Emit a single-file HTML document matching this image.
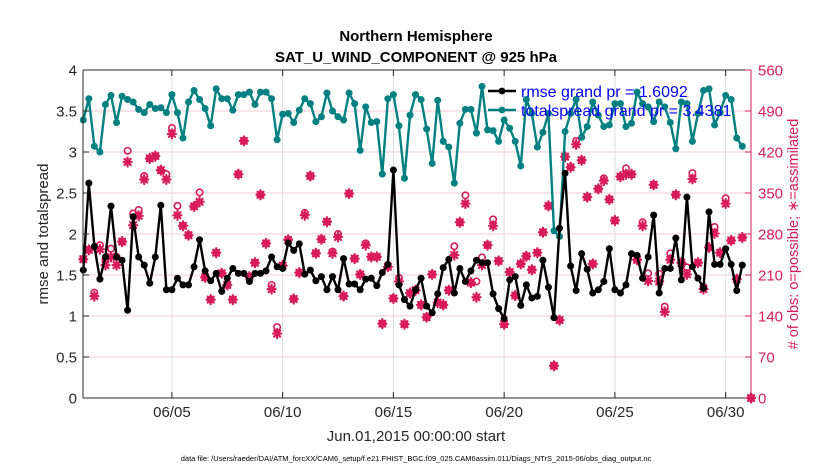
<!DOCTYPE html>
<html><head><meta charset="utf-8"><style>
html,body{margin:0;padding:0;background:#fff;}
svg{display:block;font-family:"Liberation Sans",sans-serif;}
</style></head><body>
<svg id="chart" width="830" height="470" viewBox="0 0 830 470"></svg>
<script>
const teal=[3.39,3.65,3.07,3.0,3.58,3.69,3.36,3.68,3.64,3.61,3.52,3.48,3.58,3.53,3.54,3.48,3.70,3.48,3.17,3.61,3.75,3.64,3.53,3.32,3.77,3.65,3.65,3.51,3.70,3.70,3.73,3.58,3.73,3.73,3.65,3.15,3.46,3.47,3.36,3.51,3.65,3.59,3.37,3.43,3.72,3.50,3.43,3.39,3.72,3.59,3.02,3.55,3.36,3.37,2.73,3.65,3.70,3.32,2.68,3.45,
3.70,3.64,3.28,2.86,3.63,3.13,3.06,2.62,3.35,3.52,3.52,3.23,3.80,3.27,3.26,3.13,3.39,3.29,3.13,2.83,3.64,3.47,3.06,3.24,3.47,2.04,1.97,3.25,3.47,3.64,3.18,3.31,3.61,3.45,3.31,3.33,3.59,3.59,3.31,3.35,3.73,3.59,3.55,3.37,3.61,3.55,3.36,3.04,3.61,3.59,3.13,3.47,3.75,3.77,3.33,3.48,3.69,3.64,3.17,3.07];
const rmse=[1.56,2.62,1.85,1.45,1.72,2.34,1.72,1.68,1.07,2.21,1.72,1.62,1.40,1.72,2.35,1.32,1.32,1.46,1.38,1.38,1.60,1.93,1.55,1.43,1.52,1.30,1.46,1.58,1.52,1.52,1.42,1.52,1.52,1.55,1.72,1.60,1.58,1.89,1.80,1.88,1.51,1.56,1.43,1.48,1.32,1.48,1.32,1.70,1.39,1.39,1.32,1.45,1.46,1.37,1.53,1.63,2.78,1.38,1.20,1.12,
1.32,1.46,1.12,1.04,1.27,1.59,1.69,1.28,1.58,1.42,1.55,1.68,1.65,1.65,1.27,1.09,0.97,1.44,1.48,1.13,1.38,1.22,1.24,1.68,1.35,0.98,2.07,2.74,1.61,1.31,1.76,1.57,1.28,1.32,1.42,1.82,1.32,1.28,1.38,1.76,1.74,1.46,1.72,2.23,1.28,1.58,1.58,1.95,1.44,2.45,1.60,1.46,1.34,2.27,1.63,1.63,1.82,1.63,1.31,1.62];
const assimilated=[237,253,174,254,227,241,227,267,403,295,311,373,409,413,389,373,451,312,294,278,327,335,206,168,248,213,193,168,382,439,207,231,347,264,186,110,226,270,169,214,312,379,247,271,301,247,275,174,349,238,211,261,241,241,127,224,170,199,126,179,
184,159,138,211,163,159,184,244,300,332,197,172,227,261,294,234,126,215,175,229,242,219,248,283,328,55,133,412,394,433,406,343,229,357,371,339,303,378,382,382,236,294,200,364,199,147,236,347,231,211,374,231,186,257,281,248,332,269,203,274];
const possibleExtra=[0,0,6,7,10,14,14,0,19,20,10,6,0,0,0,9,10,16,0,0,0,16,0,0,0,0,0,0,0,0,0,0,0,0,7,11,0,0,0,0,4,0,0,0,0,3,5,0,0,0,0,3,0,0,0,0,0,6,0,0,
0,0,0,0,0,0,0,15,0,14,0,27,13,0,11,0,0,0,0,0,0,0,0,0,0,0,0,0,0,6,0,0,0,0,4,0,0,0,10,0,0,6,13,0,13,9,11,0,0,12,10,0,4,0,11,0,9,0,0,0];
const finalTime=[30.15];
const finalObs=[0];
const leftTicks=["0","0.5","1","1.5","2","2.5","3","3.5","4"];
const rightTicks=["0","70","140","210","280","350","420","490","560"];
const xTickLabels=["06/05","06/10","06/15","06/20","06/25","06/30"];
const xTickDays=[4,9,14,19,24,29];
const stepDays=0.25;

const NS="http://www.w3.org/2000/svg";
const svg=document.getElementById('chart');
const X0=83.3,PXD=22.15,YB=398,YT=70;
function xS(d){return X0+d*PXD;}
function yL(v){return YB-(v/4)*(YB-YT);}
function yR(v){return YB-(v/560)*(YB-YT);}
const PINK="#d81b5a";
function el(tag,attrs,parent){const e=document.createElementNS(NS,tag);for(const k in attrs)e.setAttribute(k,attrs[k]);(parent||svg).appendChild(e);return e;}
function txt(s,attrs){const t=el('text',attrs);t.textContent=s;return t;}

const grid=el('g',{});


rightTicks.forEach((t,k)=>{const y=yR(+t);const l=el('line',{x1:83,x2:751,y1:y,y2:y,stroke:'#f3c9d6','stroke-width':1},grid);

});
xTickDays.forEach(d=>{const x=xS(d);const l=el('line',{x1:x,x2:x,y1:YT,y2:YB,stroke:'#dcdcdc','stroke-width':1},grid);

});

const obsG=el('g',{});


function star(x,y,parent){const g=el('g',{stroke:PINK,'stroke-width':2.2,'stroke-linecap':'round'},parent);
el('line',{x1:x-4,x2:x+4,y1:y,y2:y},g);el('line',{x1:x,x2:x,y1:y-4.5,y2:y+4.5},g);
el('line',{x1:x-3,x2:x+3,y1:y-3,y2:y+3},g);el('line',{x1:x-3,x2:x+3,y1:y+3,y2:y-3},g);return g;}
assimilated.forEach((v,i)=>{const x=xS(i*stepDays);
const c=el('circle',{cx:x,cy:yR(v+possibleExtra[i]),r:3.2,fill:'none',stroke:PINK,'stroke-width':1.6},obsG);


const s=star(x,yR(v),obsG);

});
finalObs.forEach((v,i)=>{const x=xS(finalTime[i]);
el('circle',{cx:x,cy:yR(v),r:3.2,fill:'none',stroke:PINK,'stroke-width':1.6},obsG);
const s=star(x,yR(v),obsG);

});

function series(arr,color,name){const g=el('g',{});


const pts=arr.map((v,i)=>xS(i*stepDays).toFixed(1)+','+yL(v).toFixed(1)).join(' ');
el('polyline',{points:pts,fill:'none',stroke:color,'stroke-width':2.4,'stroke-linejoin':'round'},g);
arr.forEach((v,i)=>{const c=el('circle',{cx:xS(i*stepDays),cy:yL(v),r:3.5,fill:color},g);

});}
series(teal,'#008080','totalspread-line');
series(rmse,'#000','rmse-line');

const ax=el('g',{});


el('line',{x1:83,x2:751,y1:YT,y2:YT,stroke:'#262626','stroke-width':1},ax);
el('line',{x1:83,x2:751,y1:YB,y2:YB,stroke:'#262626','stroke-width':1},ax);
el('line',{x1:83,x2:83,y1:YT,y2:YB,stroke:'#262626','stroke-width':1},ax);
el('line',{x1:751,x2:751,y1:YT,y2:YB,stroke:PINK,'stroke-width':1},ax);
leftTicks.forEach(t=>{const y=yL(+t);el('line',{x1:83,x2:89,y1:y,y2:y,stroke:'#262626'},ax);
const l=txt(t,{x:77,y:y+5.5,'text-anchor':'end','font-size':15,fill:'#262626'});

});
rightTicks.forEach(t=>{const y=yR(+t);el('line',{x1:745,x2:751,y1:y,y2:y,stroke:PINK},ax);
const l=txt(t,{x:758,y:y+5.5,'font-size':15,fill:PINK});

});
xTickDays.forEach((d,k)=>{const x=xS(d);el('line',{x1:x,x2:x,y1:YB,y2:YB-6,stroke:'#262626'},ax);el('line',{x1:x,x2:x,y1:YT,y2:YT+6,stroke:'#262626'},ax);
const l=txt(xTickLabels[k],{x:x,y:417,'text-anchor':'middle','font-size':15,fill:'#262626'});

});
</script>
<svg width="830" height="470" style="position:absolute;left:0;top:0;font-family:'Liberation Sans',sans-serif">
<text x="416" y="41" text-anchor="middle" font-size="15" font-weight="bold" fill="#000">Northern Hemisphere</text>
<text x="416" y="62" text-anchor="middle" font-size="15" font-weight="bold" fill="#000">SAT_U_WIND_COMPONENT @ 925 hPa</text>
<text transform="translate(48,234) rotate(-90)" text-anchor="middle" font-size="15" fill="#262626">rmse and totalspread</text>
<text transform="translate(798,234) rotate(-90)" text-anchor="middle" font-size="14.5" fill="#d81b5a"># of obs: o=possible; ∗=assimilated</text>
<text x="416" y="441" text-anchor="middle" font-size="15" fill="#262626">Jun.01,2015 00:00:00 start</text>
<text x="416" y="461" text-anchor="middle" font-size="7.5" fill="#000">data file: /Users/raeder/DAI/ATM_forcXX/CAM6_setup/f.e21.FHIST_BGC.f09_025.CAM6assim.011/Diags_NTrS_2015-06/obs_diag_output.nc</text>
<g>
<g>
<line x1="488" x2="516" y1="91" y2="91" stroke="#000" stroke-width="2.4"/><circle cx="502" cy="91" r="3.4" fill="#000"/>
<text x="521" y="97" font-size="16" fill="#0000ff">rmse grand pr = 1.6092</text></g>
<g>
<line x1="488" x2="516" y1="110" y2="110" stroke="#008080" stroke-width="2.4"/><circle cx="502" cy="110" r="3.4" fill="#008080"/>
<text x="521" y="116" font-size="16" fill="#0000ff">totalspread grand pr = 3.4381</text></g>
</g>
</svg>
</body></html>
